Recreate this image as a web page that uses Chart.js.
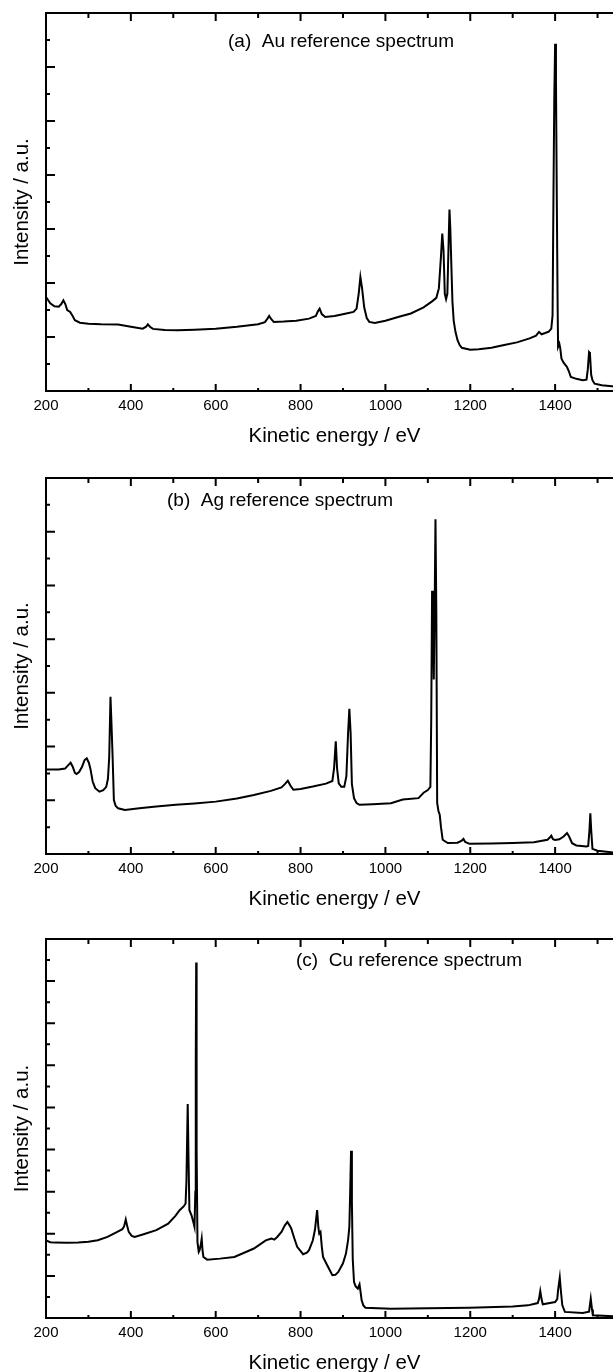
<!DOCTYPE html>
<html><head><meta charset="utf-8">
<script src="https://cdn.jsdelivr.net/npm/chart.js@4"></script>
<style>
html,body{margin:0;padding:0;background:#fff;width:613px;height:1372px;overflow:hidden;position:relative}
canvas{position:absolute;left:0}
</style></head><body>
<canvas id="ca"></canvas><canvas id="cb"></canvas><canvas id="cc"></canvas>
<script>
// ---- data (kinetic energy in eV, intensity in a.u. tick units) ----
const xTickLabels = [200,400,600,800,1000,1200,1400];
const xRange = [200,1560];

const energyAu = [200,210,220,230,236,241,246,250,257,262,268,280,300,330,370,400,428,436,440,445,452,480,510,550,600,650,700,716,722,726,731,737,760,790,820,836,841,845,850,858,880,905,925,932,937,941,945,950,956,962,975,1000,1030,1060,1090,1110,1120,1126,1131,1134,1137,1140,1143,1146,1149,1151,1153,1156,1158,1161,1165,1170,1175,1180,1200,1220,1250,1280,1310,1340,1355,1362,1368,1375,1385,1391,1394,1396,1398,1400,1402,1404,1406,1407,1410,1412,1415,1420,1425,1428,1432,1437,1450,1465,1474,1477,1480,1482,1485,1488,1493,1510,1540,1560];
const intensityAu = [3.48,3.25,3.14,3.12,3.22,3.36,3.2,3.0,2.93,2.8,2.62,2.53,2.49,2.47,2.46,2.38,2.31,2.38,2.47,2.38,2.3,2.26,2.25,2.27,2.31,2.38,2.47,2.55,2.68,2.78,2.66,2.56,2.57,2.6,2.68,2.78,2.95,3.05,2.85,2.74,2.78,2.86,2.93,3.05,3.6,4.22,3.8,3.1,2.7,2.56,2.52,2.6,2.74,2.87,3.1,3.32,3.45,3.8,5.0,5.83,5.2,3.6,3.4,3.6,5.5,6.72,6.0,4.35,3.3,2.6,2.2,1.88,1.7,1.6,1.53,1.55,1.6,1.7,1.8,1.95,2.05,2.19,2.1,2.14,2.2,2.31,2.8,7.0,10.77,12.86,11.5,7.06,3.0,1.63,1.75,1.6,1.2,1.05,0.95,0.89,0.75,0.52,0.45,0.4,0.42,0.8,1.44,1.4,0.6,0.4,0.27,0.21,0.17,0.16];

const energyAg = [200,230,245,252,258,263,268,272,278,285,291,296,301,305,310,316,326,335,342,346,349,352,354,357,360,364,370,386,420,460,506,550,600,650,690,730,755,763,770,776,783,800,829,860,875,879,883,886,890,896,903,908,912,915,918,921,926,932,939,970,1013,1041,1078,1090,1100,1106,1108,1110,1112,1114,1116,1118,1120,1122,1125,1128,1131,1135,1147,1170,1180,1184,1188,1198,1250,1300,1350,1382,1388,1391,1395,1400,1410,1420,1428,1433,1440,1450,1474,1478,1481,1483,1485,1488,1500,1537,1560];
const intensityAg = [3.15,3.15,3.18,3.3,3.4,3.25,3.02,2.98,3.05,3.25,3.5,3.56,3.4,3.15,2.7,2.45,2.32,2.38,2.5,2.8,3.6,5.85,5.0,3.62,2.01,1.8,1.7,1.64,1.7,1.77,1.83,1.88,1.95,2.07,2.2,2.35,2.48,2.6,2.73,2.55,2.39,2.42,2.51,2.62,2.72,3.2,4.2,3.2,2.63,2.5,2.5,2.9,4.5,5.41,4.5,2.6,2.08,1.9,1.83,1.85,1.89,2.03,2.08,2.28,2.38,2.5,5.0,9.8,9.0,6.5,9.0,12.46,9.0,1.9,1.6,1.46,1.0,0.53,0.41,0.42,0.5,0.56,0.45,0.38,0.39,0.41,0.44,0.53,0.62,0.68,0.55,0.52,0.55,0.65,0.78,0.65,0.4,0.32,0.28,0.3,0.9,1.52,0.9,0.19,0.12,0.06,0.05];

const energyCu = [200,210,220,250,276,300,322,345,368,380,384,388,391,395,402,409,430,460,488,505,515,525,529,531,534,536,538,543,548,550,552,553,554,555,557,560,562,565,567,569,571,580,610,644,690,718,728,732,738,745,755,763,769,774,778,785,792,806,815,820,829,834,839,842,844,847,850,853,861,868,875,882,889,900,907,912,915,917,919,921,923,926,930,935,937,939,941,944,948,953,1013,1100,1198,1300,1336,1359,1362,1365,1368,1371,1400,1405,1407,1411,1414,1417,1423,1465,1480,1484,1487,1489,1537,1560];
const intensityCu = [3.69,3.6,3.58,3.57,3.58,3.62,3.69,3.85,4.09,4.22,4.35,4.68,4.4,4.09,3.9,3.85,3.98,4.17,4.48,4.85,5.12,5.31,5.44,6.5,10.16,7.5,5.12,4.88,4.5,4.33,6.0,12.0,16.88,8.0,3.6,3.14,3.22,3.5,3.77,3.2,2.9,2.77,2.82,2.9,3.3,3.69,3.75,3.77,3.72,3.85,4.09,4.4,4.56,4.4,4.25,3.8,3.38,3.03,3.1,3.22,3.69,4.2,5.12,4.3,4.01,4.09,3.4,2.9,2.58,2.3,2.03,2.05,2.19,2.6,3.06,3.7,4.33,6.0,7.94,5.5,2.8,1.71,1.5,1.39,1.5,1.6,1.3,0.84,0.6,0.49,0.44,0.46,0.49,0.55,0.6,0.71,0.9,1.28,0.9,0.65,0.76,0.9,1.32,1.92,1.2,0.6,0.29,0.24,0.3,0.92,0.4,0.13,0.08,0.07];

const panelLabels = ['(a)  Au reference spectrum','(b)  Ag reference spectrum','(c)  Cu reference spectrum'];
const yMaxes = [14,14,18];
const xTitle = 'Kinetic energy / eV';
const yTitle = 'Intensity / a.u.';

// ---- drawing ----
const FONT = "'Liberation Sans', Arial, Helvetica, sans-serif";
const framePlugin = {
  id: 'frame',
  afterDatasetsDraw(chart, args, o) {
    const {ctx, chartArea: a, scales: {x, y}} = chart;
    ctx.save();
    ctx.strokeStyle = '#000';
    ctx.lineWidth = 2;
    ctx.beginPath();
    ctx.rect(a.left, a.top, a.right - a.left, a.bottom - a.top);
    for (let v = x.min; v <= x.max; v += 100) {
      const px = x.getPixelForValue(v);
      const major = (v % 200 === 0);
      ctx.moveTo(px, a.bottom); ctx.lineTo(px, a.bottom - (major ? 7 : 3));
      ctx.moveTo(px, a.top); ctx.lineTo(px, a.top + (major ? 8 : 5));
    }
    for (let v = y.min; v <= y.max; v += 1) {
      const py = y.getPixelForValue(v);
      const len = (v % 2 === 0) ? 9 : 4;
      ctx.moveTo(a.left, py); ctx.lineTo(a.left + len, py);
      ctx.moveTo(a.right, py); ctx.lineTo(a.right - len, py);
    }
    ctx.stroke();
    ctx.fillStyle = '#000';
    ctx.font = '19px ' + FONT;
    ctx.textAlign = 'center';
    ctx.textBaseline = 'middle';
    ctx.fillText(o.label, o.lx, a.top + o.ly);
    ctx.restore();
  }
};

function makeChart(id, top, plotH, energies, intens, yMax, label, lx, ly) {
  const cv = document.getElementById(id);
  const W = 660, H = 13 + plotH + 61;
  cv.width = W; cv.height = H;
  cv.style.top = top + 'px';
  cv.style.width = W + 'px'; cv.style.height = H + 'px';
  const pts = energies.map((e, i) => ({x: e, y: intens[i]}));
  return new Chart(cv, {
    type: 'line',
    data: {datasets: [{data: pts, borderColor: '#000', borderWidth: 2, pointRadius: 0, tension: 0, fill: false}]},
    options: {
      responsive: false, animation: false, devicePixelRatio: 1,
      layout: {padding: {top: 13, right: 37, left: 0, bottom: 0}},
      plugins: {legend: {display: false}, tooltip: {enabled: false}, frame: {label, lx, ly}},
      scales: {
        x: {
          type: 'linear', min: xRange[0], max: xRange[1],
          afterFit(s) { s.height = 61; },
          afterBuildTicks(s) { s.ticks = xTickLabels.map(v => ({value: v})); },
          grid: {display: false, drawTicks: false, tickLength: 0}, border: {display: false},
          ticks: {color: '#000', font: {family: FONT, size: 15}, padding: 6, maxRotation: 0, autoSkip: false,
                  callback: v => String(v)},
          title: {display: true, text: xTitle, color: '#000', font: {family: FONT, size: 20.5}, padding: {top: 0, bottom: 3}}
        },
        y: {
          type: 'linear', min: 0, max: yMax,
          afterFit(s) { s.width = 46; },
          grid: {display: false}, border: {display: false},
          ticks: {display: false},
          title: {display: true, text: yTitle, color: '#000', font: {family: FONT, size: 20.5}, padding: {top: 10, bottom: 0}}
        }
      }
    },
    plugins: [framePlugin]
  });
}

makeChart('ca', 0, 378, energyAu, intensityAu, yMaxes[0], panelLabels[0], 341, 29);
makeChart('cb', 465, 376, energyAg, intensityAg, yMaxes[1], panelLabels[1], 280, 23);
makeChart('cc', 926, 379, energyCu, intensityCu, yMaxes[2], panelLabels[2], 409, 22);
</script>
</body></html>
